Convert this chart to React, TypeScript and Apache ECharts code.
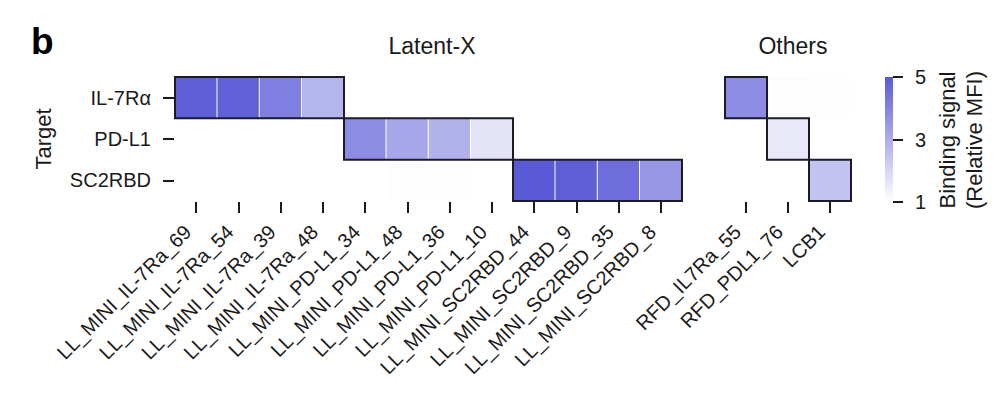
import React, { useEffect, useRef } from "react";
import * as echarts from "echarts";

const targets = ["IL-7Rα", "PD-L1", "SC2RBD"];

const latentBinders = [
  "LL_MINI_IL-7Ra_69", "LL_MINI_IL-7Ra_54", "LL_MINI_IL-7Ra_39", "LL_MINI_IL-7Ra_48",
  "LL_MINI_PD-L1_34", "LL_MINI_PD-L1_48", "LL_MINI_PD-L1_36", "LL_MINI_PD-L1_10",
  "LL_MINI_SC2RBD_44", "LL_MINI_SC2RBD_9", "LL_MINI_SC2RBD_35", "LL_MINI_SC2RBD_8",
];
const otherBinders = ["RFD_IL7Ra_55", "RFD_PDL1_76", "LCB1"];

// rows: IL-7Rα, PD-L1, SC2RBD ; null = no signal drawn
const latentIL7R = [4.9, 4.85, 4.1, 2.8, null, null, null, null, null, null, null, null];
const latentPDL1 = [null, null, null, null, 3.8, 3.15, 2.9, 1.65, null, null, null, null];
const latentSC2 = [null, null, null, null, null, 1.04, 1.03, null, 5.0, 4.9, 4.55, 3.55];

const otherIL7R = [3.8, 1.04, 1.03];
const otherPDL1 = [null, 1.55, null];
const otherSC2 = [null, null, 2.45];

// on-target blocks: [first column, last column, row]
const latentBlocks = [[0, 3, 0], [4, 7, 1], [8, 11, 2]];
const otherBlocks = [[0, 0, 0], [1, 1, 1], [2, 2, 2]];

const colorbarTicks = ["1", "2", "3", "4", "5"];

const FONT = "Liberation Sans, Arial, sans-serif";
const BLUE = "#5a5ad6";
const INK = "#1a1a1a";

function toCells(rows: (number | null)[][]) {
  const out: number[][] = [];
  rows.forEach((row, r) => {
    row.forEach((v, c) => {
      if (v !== null) out.push([c, r, v]);
    });
  });
  return out;
}

function outlineSeries(blocks: number[][], idx: number) {
  return {
    type: "custom",
    xAxisIndex: idx,
    yAxisIndex: idx,
    data: blocks,
    encode: { x: [0, 1], y: 2 },
    z: 5,
    renderItem: (_params: any, api: any) => {
      const p1 = api.coord([api.value(0), api.value(2)]);
      const p2 = api.coord([api.value(1), api.value(2)]);
      const s = api.size([1, 1]);
      return {
        type: "rect",
        shape: {
          x: p1[0] - s[0] / 2,
          y: p1[1] - s[1] / 2,
          width: p2[0] - p1[0] + s[0],
          height: s[1],
        },
        style: { fill: "none", stroke: "#1b1b2b", lineWidth: 2 },
      };
    },
  };
}

function xAxisFor(data: string[], gridIndex: number) {
  return {
    type: "category",
    gridIndex,
    data,
    offset: 1,
    axisLine: { show: false },
    axisTick: { show: true, alignWithLabel: true, length: 11, lineStyle: { color: INK, width: 2 } },
    axisLabel: {
      interval: 0,
      rotate: 45,
      margin: 18,
      padding: [0, 12, 0, 0],
      fontSize: 20,
      fontFamily: FONT,
      color: INK,
    },
    splitLine: { show: false },
  };
}

export default function App() {
  const ref = useRef<HTMLDivElement>(null);

  useEffect(() => {
    if (!ref.current) return;
    const chart = echarts.init(ref.current, undefined, { renderer: "svg" });

    const option: any = {
      animation: false,
      backgroundColor: "#ffffff",
      grid: [
        { left: 175, top: 77, width: 507, height: 124 },
        { left: 725, top: 77, width: 126, height: 124 },
        { left: 885, top: 77, width: 8, height: 125 },
      ],
      xAxis: [
        xAxisFor(latentBinders, 0),
        xAxisFor(otherBinders, 1),
        { type: "category", gridIndex: 2, data: [""], show: false },
      ],
      yAxis: [
        {
          type: "category",
          gridIndex: 0,
          data: targets,
          inverse: true,
          offset: 1,
          axisLine: { show: false },
          axisTick: { show: true, alignWithLabel: true, length: 11, lineStyle: { color: INK, width: 2 } },
          axisLabel: { margin: 23, fontSize: 20, fontFamily: FONT, color: INK },
        },
        {
          type: "category",
          gridIndex: 1,
          data: targets,
          inverse: true,
          axisLine: { show: false },
          axisTick: { show: false },
          axisLabel: { show: false },
        },
        {
          type: "category",
          gridIndex: 2,
          data: colorbarTicks,
          boundaryGap: false,
          position: "right",
          axisLine: { show: false },
          axisTick: { show: true, interval: 1, length: 10, lineStyle: { color: INK, width: 2 } },
          axisLabel: { interval: 1, margin: 22, fontSize: 20, fontFamily: FONT, color: INK },
        },
      ],
      visualMap: {
        type: "continuous",
        show: false,
        min: 1,
        max: 5,
        dimension: 2,
        seriesIndex: [0, 1],
        inRange: { color: ["#ffffff", BLUE] },
      },
      series: [
        {
          type: "heatmap",
          xAxisIndex: 0,
          yAxisIndex: 0,
          data: toCells([latentIL7R, latentPDL1, latentSC2]),
          itemStyle: { borderColor: "#ffffff", borderWidth: 1 },
          emphasis: { disabled: true },
        },
        {
          type: "heatmap",
          xAxisIndex: 1,
          yAxisIndex: 1,
          data: toCells([otherIL7R, otherPDL1, otherSC2]),
          itemStyle: { borderColor: "#ffffff", borderWidth: 1 },
          emphasis: { disabled: true },
        },
        outlineSeries(latentBlocks, 0),
        outlineSeries(otherBlocks, 1),
      ],
      graphic: [
        {
          type: "text",
          x: 31,
          y: 41,
          style: { text: "b", fontSize: 37, fontWeight: "bold", fontFamily: FONT, fill: "#000", align: "left", verticalAlign: "middle" },
        },
        {
          type: "text",
          x: 432,
          y: 46,
          style: { text: "Latent-X", fontSize: 23, fontFamily: FONT, fill: INK, align: "center", verticalAlign: "middle" },
        },
        {
          type: "text",
          x: 793,
          y: 46,
          style: { text: "Others", fontSize: 23, fontFamily: FONT, fill: INK, align: "center", verticalAlign: "middle" },
        },
        {
          type: "text",
          x: 43,
          y: 139,
          rotation: Math.PI / 2,
          style: { text: "Target", fontSize: 22, fontFamily: FONT, fill: INK, align: "center", verticalAlign: "middle" },
        },
        {
          type: "text",
          x: 961,
          y: 140,
          rotation: Math.PI / 2,
          style: {
            text: "Binding signal\n(Relative MFI)",
            fontSize: 22,
            lineHeight: 27,
            fontFamily: FONT,
            fill: INK,
            align: "center",
            verticalAlign: "middle",
          },
        },
        {
          type: "rect",
          shape: { x: 885, y: 77, width: 8, height: 125 },
          style: {
            fill: {
              type: "linear",
              x: 0,
              y: 0,
              x2: 0,
              y2: 1,
              colorStops: [
                { offset: 0, color: BLUE },
                { offset: 1, color: "#ffffff" },
              ],
            },
          },
        },
      ],
    };

    chart.setOption(option);
    return () => chart.dispose();
  }, []);

  return (
    <div
      ref={ref}
      style={{ position: "fixed", left: 0, top: 0, width: 1000, height: 395 }}
    />
  );
}
